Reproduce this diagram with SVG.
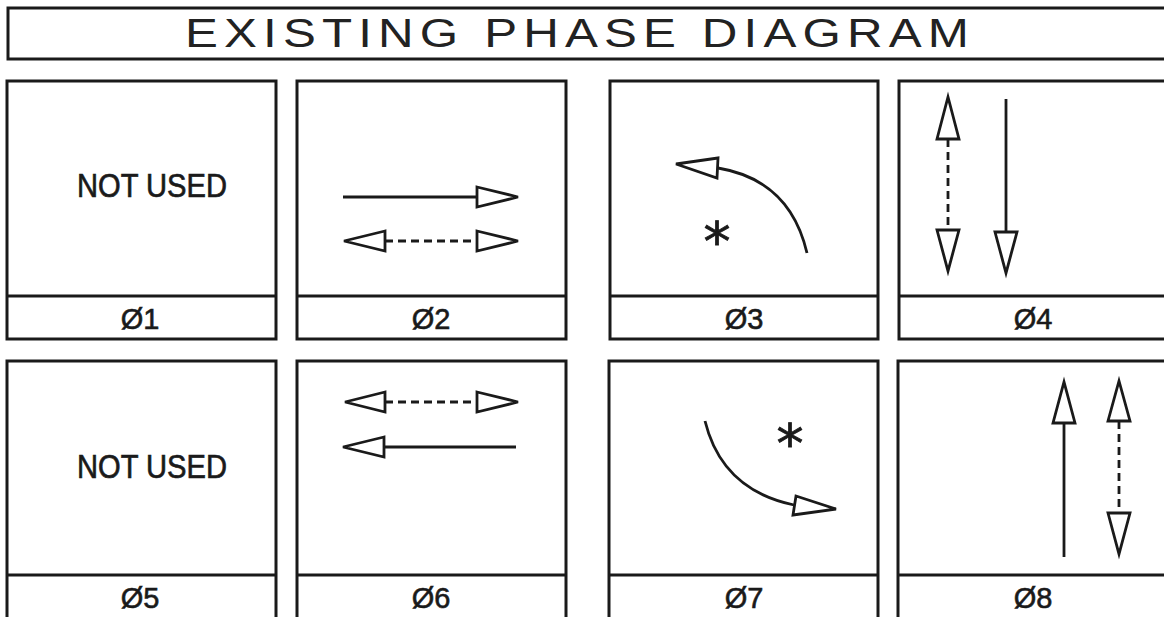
<svg xmlns="http://www.w3.org/2000/svg" width="1164" height="617" viewBox="0 0 1164 617">
<style>
.box{fill:#fff;stroke:#1a1a1a;stroke-width:3}
.div{stroke:#1a1a1a;stroke-width:3}
.ln{stroke:#1a1a1a;stroke-width:2.8;fill:none}
.dash{stroke:#1a1a1a;stroke-width:2.8;fill:none;stroke-dasharray:8 5}
.hd{fill:#fff;stroke:#1a1a1a;stroke-width:2.8;stroke-linejoin:miter}
.nu{font-family:"Liberation Sans",Arial,sans-serif;font-size:34px;fill:#1a1a1a;stroke:#1a1a1a;stroke-width:0.7;text-anchor:middle}
.lb{font-family:"Liberation Sans",Arial,sans-serif;font-size:29px;fill:#1a1a1a;stroke:#1a1a1a;stroke-width:0.6;text-anchor:middle}
.ast{font-family:"DejaVu Sans",sans-serif;font-size:54px;fill:#1a1a1a;stroke:#1a1a1a;stroke-width:0.8;text-anchor:middle}
</style>
<rect width="1164" height="617" fill="#fff"/>
<g id="title">
<rect class="box" x="8" y="8" width="1170" height="51"/>
<text x="185" y="47" font-family="'Liberation Sans',Arial,sans-serif" font-size="40" fill="#222" letter-spacing="5" textLength="790" lengthAdjust="spacingAndGlyphs">EXISTING PHASE DIAGRAM</text>
</g>
<g id="p1">
<rect class="box" x="7" y="81" width="269" height="258"/>
<line class="div" x1="7" y1="296" x2="276" y2="296"/>
<text class="nu" x="152" y="197" textLength="150" lengthAdjust="spacingAndGlyphs">NOT USED</text>
<text class="lb" x="140" y="329">Ø1</text>
</g>
<g id="p2">
<rect class="box" x="297" y="81" width="269" height="258"/>
<line class="div" x1="297" y1="296" x2="566" y2="296"/>
<text class="lb" x="431" y="329">Ø2</text>
</g>
<g id="p3">
<rect class="box" x="610" y="81" width="268" height="258"/>
<line class="div" x1="610" y1="296" x2="878" y2="296"/>
<text class="ast" x="717" y="260">*</text>
<text class="lb" x="744" y="329">Ø3</text>
</g>
<g id="p4">
<rect class="box" x="899" y="81" width="280" height="258"/>
<line class="div" x1="899" y1="296" x2="1179" y2="296"/>
<text class="lb" x="1033" y="329">Ø4</text>
</g>
<g id="p5">
<rect class="box" x="7" y="361" width="269" height="260"/>
<line class="div" x1="7" y1="575" x2="276" y2="575"/>
<text class="nu" x="152" y="478" textLength="150" lengthAdjust="spacingAndGlyphs">NOT USED</text>
<text class="lb" x="140" y="608">Ø5</text>
</g>
<g id="p6">
<rect class="box" x="297" y="361" width="269" height="260"/>
<line class="div" x1="297" y1="575" x2="566" y2="575"/>
<text class="lb" x="431" y="608">Ø6</text>
</g>
<g id="p7">
<rect class="box" x="609" y="361" width="269" height="260"/>
<line class="div" x1="609" y1="575" x2="878" y2="575"/>
<text class="ast" x="790" y="462">*</text>
<text class="lb" x="744" y="608">Ø7</text>
</g>
<g id="p8">
<rect class="box" x="898" y="361" width="281" height="260"/>
<line class="div" x1="898" y1="575" x2="1179" y2="575"/>
<text class="lb" x="1033" y="608">Ø8</text>
</g>
<g id="connectors">
<line class="ln" x1="343" y1="197" x2="477" y2="197"/>
<polygon class="hd" points="477,187 518,197 477,207"/>
<line class="dash" x1="385" y1="241" x2="477" y2="241"/>
<polygon class="hd" points="385,231 344,241 385,251"/>
<polygon class="hd" points="477,231 518,241 477,251"/>
<path class="ln" d="M807,253 Q790,180 718,168"/>
<polygon class="hd" points="718,158 676,164 717,178"/>
<line class="dash" x1="948" y1="139" x2="948" y2="230"/>
<polygon class="hd" points="937,139 948,97 959,139"/>
<polygon class="hd" points="937,230 948,271 959,230"/>
<line class="ln" x1="1006" y1="99" x2="1006" y2="232"/>
<polygon class="hd" points="995,232 1006,273 1017,232"/>
<line class="dash" x1="385" y1="402" x2="477" y2="402"/>
<polygon class="hd" points="385,392 345,402 385,412"/>
<polygon class="hd" points="477,392 518,402 477,412"/>
<line class="ln" x1="384" y1="447" x2="516" y2="447"/>
<polygon class="hd" points="384,437 343,447 384,457"/>
<path class="ln" d="M705,421 Q722,490 794,505"/>
<polygon class="hd" points="796,496 836,509 793,515"/>
<line class="ln" x1="1064" y1="423" x2="1064" y2="557"/>
<polygon class="hd" points="1053,423 1064,382 1075,423"/>
<line class="dash" x1="1119" y1="421" x2="1119" y2="513"/>
<polygon class="hd" points="1108,421 1119,381 1130,421"/>
<polygon class="hd" points="1108,513 1119,554 1130,513"/>
</g>
</svg>
